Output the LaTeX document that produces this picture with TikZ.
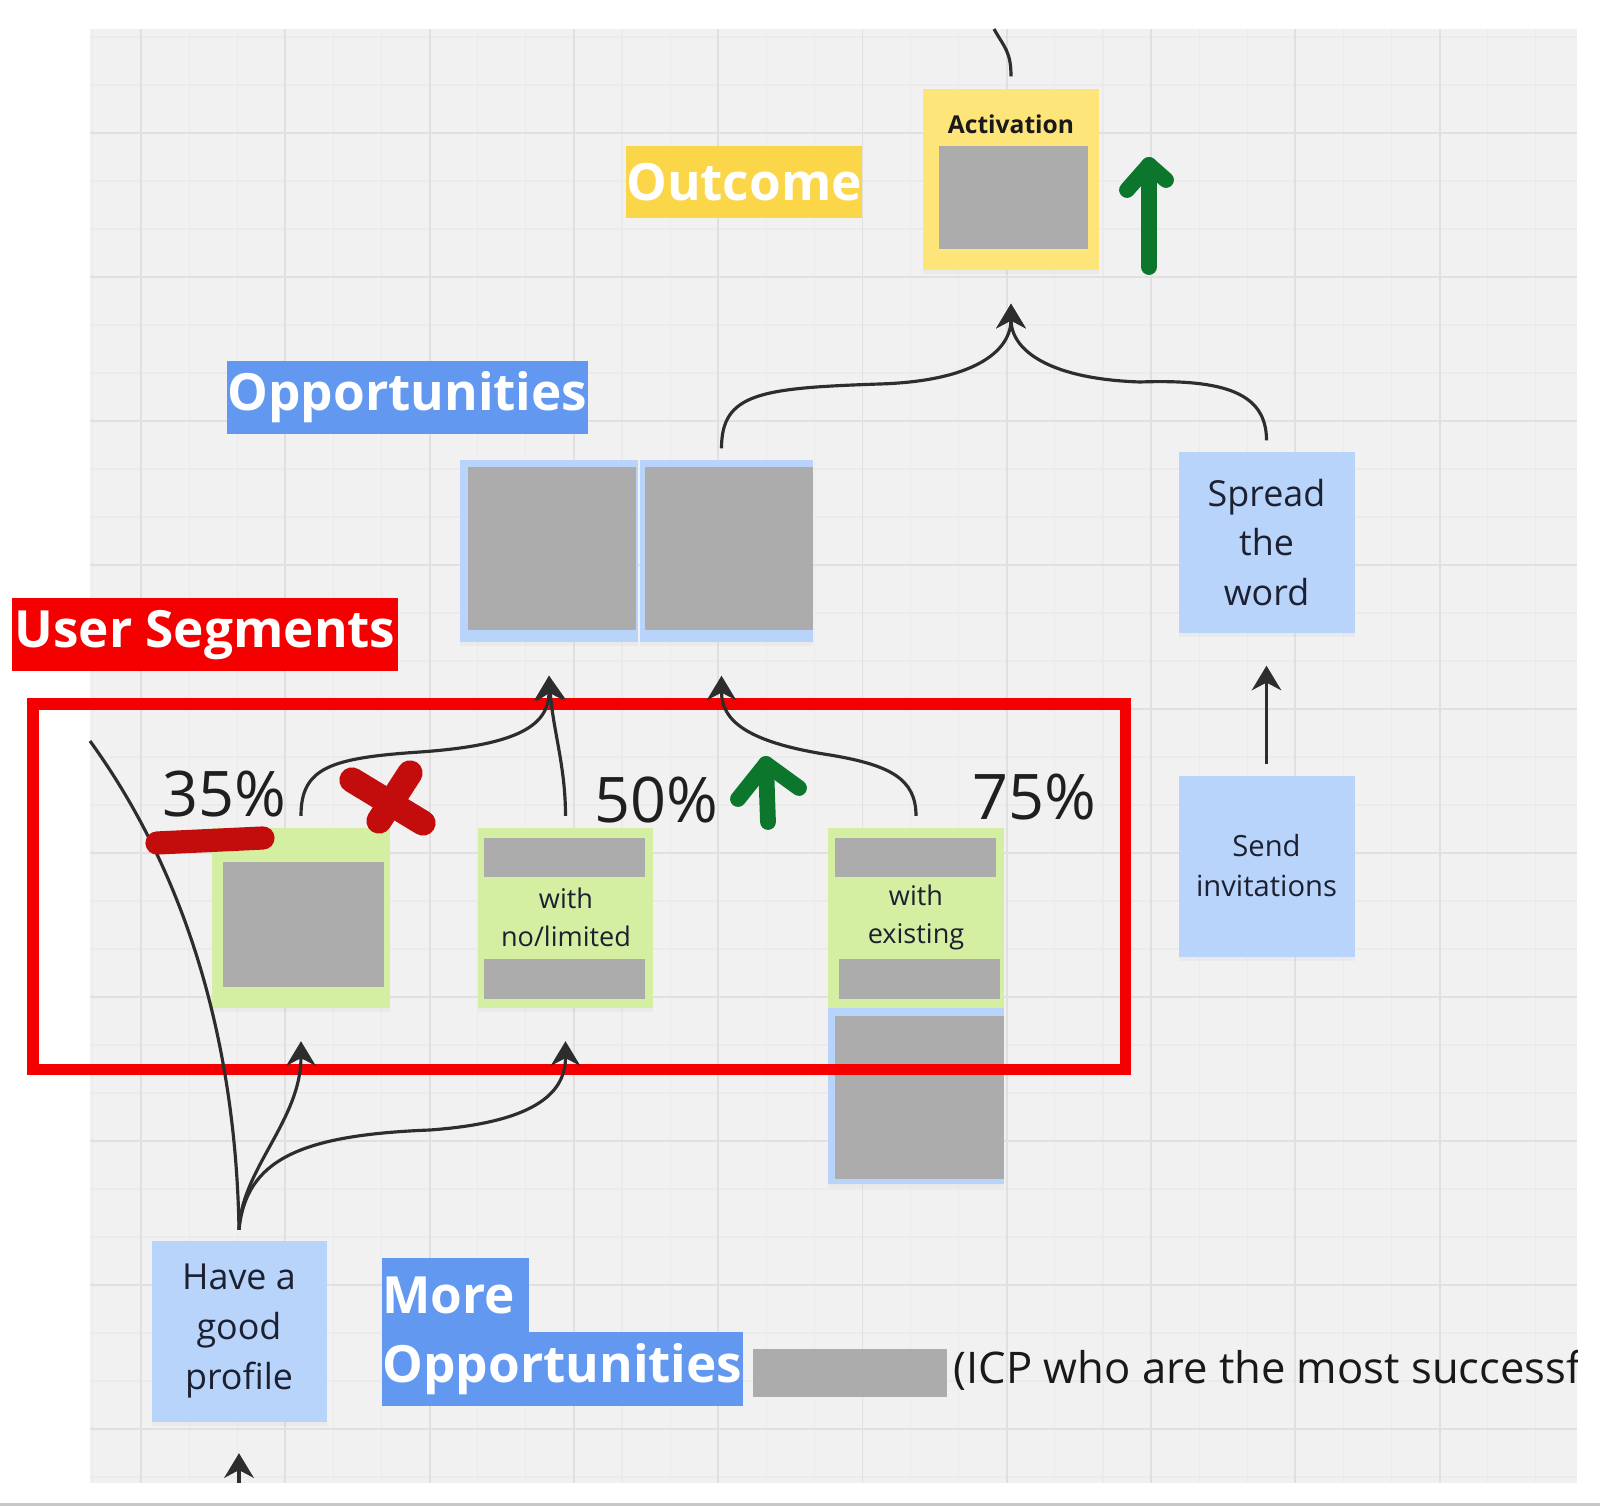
\documentclass[tikz,border=0pt]{standalone}
\usepackage{fontspec}
\setmainfont{Open Sans}
\usetikzlibrary{arrows.meta,positioning,shadows}
\definecolor{canvasbg}{RGB}{241,241,241}
\definecolor{gridcol}{RGB}{224,224,224}
\definecolor{subgridcol}{RGB}{235,235,235}
\definecolor{noteblue}{RGB}{184,212,251}
\definecolor{notegreen}{RGB}{212,238,162}
\definecolor{noteyellow}{RGB}{253,229,122}
\definecolor{tagyellow}{RGB}{250,214,72}
\definecolor{tagblue}{RGB}{98,152,240}
\definecolor{tagred}{RGB}{245,0,0}
\definecolor{redact}{RGB}{172,172,172}
\definecolor{linecol}{RGB}{45,45,45}
\definecolor{notetext}{RGB}{28,32,48}
\definecolor{markred}{RGB}{195,12,12}
\definecolor{markgreen}{RGB}{12,118,45}
\tikzset{
  sticky/.style={rectangle,inner sep=0pt,align=center,text=notetext,
    drop shadow={shadow xshift=0mm,shadow yshift=-0.4mm,opacity=0.06}},
  bluenote/.style={sticky,fill=noteblue},
  greennote/.style={sticky,fill=notegreen},
  yellownote/.style={sticky,fill=noteyellow},
  hidden/.style={rectangle,fill=redact,inner sep=0pt},
  tag/.style={rectangle,inner sep=0pt,text=white,font=\fontsize{14.6}{17}\selectfont\bfseries},
  pct/.style={inner sep=0pt,text=black!88,font=\fontsize{17.9}{21}\selectfont},
  bigtxt/.style={font=\fontsize{10.2}{14.2}\selectfont},
  midtxt/.style={font=\fontsize{8.3}{11.4}\selectfont},
  smalltxt/.style={inner sep=0pt,align=center,text=notetext,font=\fontsize{7.7}{10.8}\selectfont},
  conn/.style={draw=linecol,line width=0.9pt,-{Stealth[length=7pt,width=8.4pt,inset=2.2pt]}},
  link/.style={draw=linecol,line width=0.9pt},
  redmark/.style={draw=markred,line width=6.6pt,line cap=round},
  greenmark/.style={draw=markgreen,line width=4.5pt,line cap=round,line join=round},
}
\begin{document}
\begin{tikzpicture}[x=0.1mm,y=-0.1mm]
  \useasboundingbox (0,0) rectangle (1600,1506);
  \fill[white] (0,0) rectangle (1600,1506);
  \fill[canvasbg] (90,29) rectangle (1577,1483);
  \fill[black!22] (0,1503) rectangle (1600,1506);
  \begin{scope}
    \clip (90,29) rectangle (1577,1483);
    \foreach \k in {0,...,31} {
      \draw[subgridcol,line width=0.3pt] ({92.9+48.1*\k},29) -- ({92.9+48.1*\k},1483);
      \draw[subgridcol,line width=0.3pt] (90,{37+48*\k}) -- (1577,{37+48*\k});
    }
    \foreach \k in {0,...,9} {
      \draw[gridcol,line width=0.55pt] ({141+144.3*\k},29) -- ({141+144.3*\k},1483);
      \draw[gridcol,line width=0.55pt] (90,{133+144*\k}) -- (1577,{133+144*\k});
    }
  \end{scope}

  % outcome
  \node[tag,fill=tagyellow,minimum width=23.4mm,minimum height=7.2mm] (outcome) at (744,182) {Outcome};
  \node[yellownote,minimum width=17.6mm,minimum height=18.1mm] (act) at (1011,179.5) {};
  \node[inner sep=0pt,text=black!90,font=\fontsize{7.0}{8.4}\selectfont\bfseries] (acttitle) at (1011,124) {Activation};
  \node[hidden,minimum width=14.9mm,minimum height=10.3mm] (actbox) at (1013.5,197.5) {};

  % opportunities
  \node[tag,fill=tagblue,minimum width=36.1mm,minimum height=7.3mm] (opptag) at (407.5,397.5) {Opportunities};
  \node[bluenote,minimum width=17.8mm,minimum height=18.2mm] (oppL) at (549,551) {};
  \node[bluenote,minimum width=17.3mm,minimum height=18.2mm] (oppR) at (726.5,551) {};
  \node[hidden,minimum width=16.8mm,minimum height=16.3mm] (oppLbox) at (551.5,548.5) {};
  \node[hidden,minimum width=16.8mm,minimum height=16.3mm] (oppRbox) at (729,548.5) {};
  \node[bluenote,bigtxt,minimum width=17.6mm,minimum height=18.1mm] (spread) at (1266.5,542.5) {Spread\\the\\word};
  \node[bluenote,midtxt,minimum width=17.6mm,minimum height=18.1mm] (send) at (1266.5,866) {Send\\invitations};

  % user segments
  \node[tag,fill=tagred,minimum width=38.6mm,minimum height=7.3mm] (segtag) at (205,635) {User Segments};
  \node[greennote,minimum width=17.8mm,minimum height=18mm] (seg1) at (301,917.5) {};
  \node[hidden,minimum width=16.1mm,minimum height=12.5mm] (seg1box) at (303.5,924.5) {};
  \node[greennote,minimum width=17.5mm,minimum height=18mm] (seg2) at (565.5,917.5) {};
  \node[hidden,minimum width=16.1mm,minimum height=3.9mm] (seg2top) at (564.5,857.5) {};
  \node[smalltxt] (seg2txt) at (566,917) {with\\no/limited};
  \node[hidden,minimum width=16.1mm,minimum height=4mm] (seg2bot) at (564.5,979) {};
  \node[greennote,minimum width=17.6mm,minimum height=18mm] (seg3) at (916,917.5) {};
  \node[hidden,minimum width=16.1mm,minimum height=3.9mm] (seg3top) at (915.5,857.5) {};
  \node[smalltxt] (seg3txt) at (916,917) {with\\existing};
  \node[hidden,minimum width=16.1mm,minimum height=4mm] (seg3bot) at (919.5,979) {};
  \node[bluenote,minimum width=17.6mm,minimum height=17.6mm] (below) at (916,1096) {};
  \node[hidden,minimum width=16.9mm,minimum height=16.3mm] (belowbox) at (919.5,1097.5) {};
  \node[pct] (p35) at (224,794) {35\%};
  \node[pct] (p50) at (656,800) {50\%};
  \node[pct] (p75) at (1034,797) {75\%};
  \draw[draw=tagred,line width=3.4pt] (33,704) rectangle (1125.5,1069.5);

  % more opportunities
  \node[bluenote,bigtxt,minimum width=17.5mm,minimum height=18.1mm] (have) at (239,1331) {Have a\\good\\profile};
  \node[tag,fill=tagblue,minimum width=14.7mm,text width=14.7mm,minimum height=7.4mm,align=left] (moretag) at (455.5,1295) {More};
  \node[tag,fill=tagblue,minimum width=36.1mm,minimum height=7.4mm] (moreopp) at (562.5,1369) {Opportunities};
  \node[hidden,minimum width=19.4mm,minimum height=4.8mm] (icpbox) at (850,1373) {};
  \begin{scope}
    \clip (90,29) rectangle (1577,1483);
    \node[anchor=west,inner sep=0pt,text=black!90,font=\fontsize{12.4}{14}\selectfont] (icptxt) at (953,1370) {(ICP who are the most successf};
  \end{scope}

  % connectors
  \coordinate (topin) at (994,29);
  \coordinate (actin) at ([yshift=-3.3mm]act.south);
  \coordinate (oppLin) at ([yshift=-3.3mm]oppL.south);
  \coordinate (oppRin) at ([xshift=-0.5mm,yshift=-3.3mm]oppR.south);
  \coordinate (spreadin) at ([yshift=-3.2mm]spread.south);
  \coordinate (seg1in) at ([yshift=-3.3mm]seg1.south);
  \coordinate (seg2in) at ([yshift=-3.3mm]seg2.south);
  \coordinate (haveout) at ([yshift=1mm]have.north);
  \coordinate (havein) at ([yshift=-3.1mm]have.south);
  \coordinate (botin) at (239,1483);
  \coordinate (offleft) at (90,741);
  \draw[link] (topin) .. controls +(10,18) and +(0,-25) .. ([yshift=1.2mm]act.north);
  \draw[conn] ([xshift=-0.5mm,yshift=1.1mm]oppR.north) .. controls +(0,-55) and +(-120,4) .. (880,384) .. controls +(95,-3) and +(0,47) .. (actin);
  \draw[conn] ([yshift=1.1mm]spread.north) .. controls +(0,-47) and +(85,-3) .. (1140,382) .. controls +(-90,-3) and +(0,47) .. (actin);
  \draw[conn] ([yshift=1.1mm]send.north) -- (spreadin);
  \draw[conn] ([yshift=1.1mm]seg1.north) .. controls +(0,-48) and +(-90,6) .. (420,752) .. controls +(100,-7) and +(0,49) .. (oppLin);
  \draw[conn] ([yshift=1.1mm]seg2.north) .. controls +(0,-50) and +(4,55) .. (oppLin);
  \draw[conn] ([yshift=1.1mm]seg3.north) .. controls +(0,-37) and +(60,10) .. (830,755) .. controls +(-85,-13) and +(0,44) .. (oppRin);
  \draw[conn] (haveout) .. controls +(2,-60) and +(0,79) .. (seg1in);
  \draw[conn] (haveout) .. controls +(7,-70) and +(-130,5) .. (430,1130) .. controls +(110,-8) and +(0,49) .. (seg2in);
  \draw[link] (haveout) .. controls +(-3,-180) and +(100,138) .. (offleft);
  \draw[conn] (botin) -- (havein);

  % marks
  \draw[redmark] (157,843) -- (263,838);
  \draw[redmark,line width=7.2pt] (352,780) -- (423,823);
  \draw[redmark,line width=7.2pt] (410,773) -- (379,821);
  \coordinate (upA) at (1149,165);
  \draw[greenmark] (1149,267) -- (upA);
  \draw[greenmark] (1127,190) -- (upA) -- (1166,180);
  \coordinate (upB) at (766,764);
  \draw[greenmark] (768,822) -- (upB);
  \draw[greenmark] (738,799) -- (upB) -- (799,788);
\end{tikzpicture}
\end{document}
